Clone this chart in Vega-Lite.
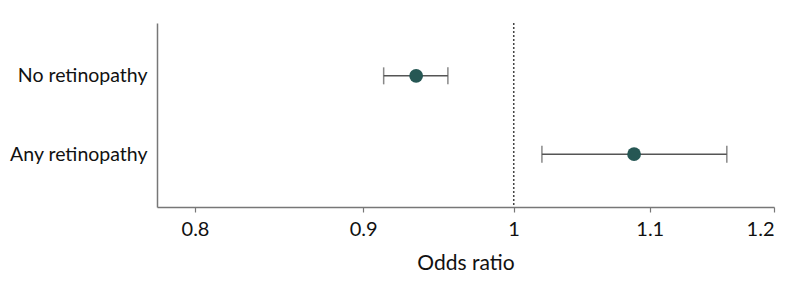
{
  "$schema": "https://vega.github.io/schema/vega-lite/v6.json",
  "width": 617,
  "height": 184,
  "autosize": {"type": "none"},
  "padding": {"left": 157, "top": 23, "right": 24, "bottom": 85},
  "background": "white",
  "config": {
    "view": {"stroke": null},
    "font": "Lato",
    "axis": {"grid": false, "labelFont": "Lato", "titleFont": "Lato", "labelColor": "#111", "titleColor": "#111", "domainColor": "#777", "tickColor": "#777", "domainWidth": 1.5, "tickWidth": 1.2}
  },
  "data": {
    "values": [
      {"group": "No retinopathy", "or": 0.934, "lo": 0.913, "hi": 0.955},
      {"group": "Any retinopathy", "or": 1.088, "lo": 1.02, "hi": 1.161}
    ]
  },
  "encoding": {
    "y": {
      "field": "group", "type": "nominal",
      "sort": ["No retinopathy", "Any retinopathy"],
      "scale": {"type": "point", "padding": 0.675},
      "axis": {"title": null, "ticks": false, "labelFontSize": 19.5, "labelPadding": 10}
    }
  },
  "layer": [
    {
      "mark": {"type": "rule", "strokeDash": [2, 2], "color": "#444", "strokeWidth": 1.3},
      "encoding": {"x": {"datum": 1, "type": "quantitative"}, "y": null}
    },
    {
      "mark": {"type": "rule", "color": "#555", "strokeWidth": 1.5},
      "encoding": {
        "x": {"field": "lo", "type": "quantitative",
          "scale": {"type": "log", "domain": [0.779, 1.2], "nice": false, "zero": false},
          "axis": {"title": "Odds ratio", "values": [0.8, 0.9, 1, 1.1, 1.2], "format": "~g", "tickSize": 5, "labelFontSize": 20, "labelPadding": 7, "titleFontSize": 21, "titleFontWeight": "normal", "titlePadding": 13}},
        "x2": {"field": "hi"}
      }
    },
    {
      "mark": {"type": "tick", "orient": "vertical", "color": "#555", "thickness": 1.5, "size": 17},
      "encoding": {"x": {"field": "lo", "type": "quantitative"}}
    },
    {
      "mark": {"type": "tick", "orient": "vertical", "color": "#555", "thickness": 1.5, "size": 17},
      "encoding": {"x": {"field": "hi", "type": "quantitative"}}
    },
    {
      "mark": {"type": "point", "filled": true, "opacity": 1, "color": "#265754", "size": 190},
      "encoding": {"x": {"field": "or", "type": "quantitative"}}
    }
  ]
}
